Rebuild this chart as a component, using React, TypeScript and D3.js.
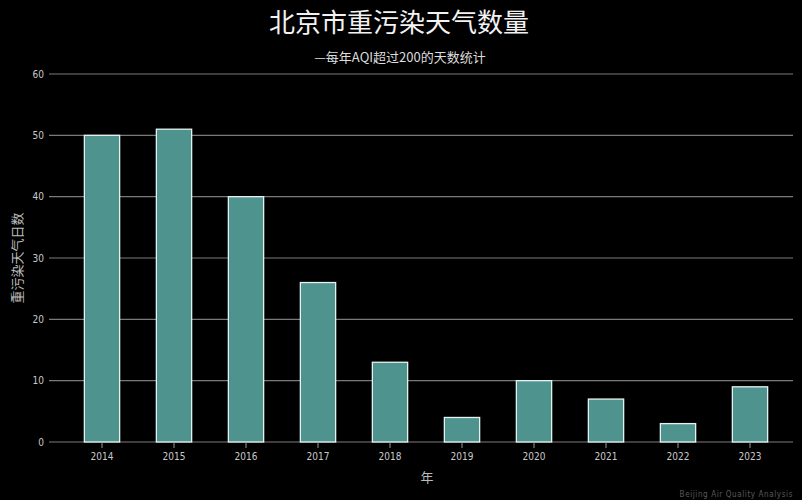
import { useEffect, useRef } from 'react';
import * as d3 from 'd3';

const years = ['2014', '2015', '2016', '2017', '2018', '2019', '2020', '2021', '2022', '2023'];
const heavyDays = [50, 51, 40, 26, 13, 4, 10, 7, 3, 9];
const yTicks = [0, 10, 20, 30, 40, 50, 60];

const WIDTH = 802;
const HEIGHT = 500;
const CJK = '"Noto Sans CJK SC", "Noto Sans", sans-serif';
const NUM = '"DejaVu Sans Condensed", "Liberation Sans Narrow", sans-serif';

export default function App() {
  const svgRef = useRef<SVGSVGElement>(null);

  useEffect(() => {
    if (!svgRef.current) return;
    const svg = d3.select(svgRef.current);
    svg.selectAll('*').remove();

    svg.append('rect').attr('width', WIDTH).attr('height', HEIGHT).attr('fill', '#000');

    // Scales
    const x = d3.scaleBand().domain(years).range([66, 786]).paddingInner(0.51).paddingOuter(0.255);
    const y = d3.scaleLinear().domain([0, 60]).range([442, 74]);

    // Grid lines
    svg.append('g')
      .selectAll('line')
      .data(yTicks)
      .join('line')
      .attr('x1', 49)
      .attr('x2', 793)
      .attr('y1', (d) => y(d))
      .attr('y2', (d) => y(d))
      .attr('stroke', '#7a7a7a')
      .attr('stroke-width', 1.2);

    // Y tick labels
    svg.append('g')
      .selectAll('text')
      .data(yTicks)
      .join('text')
      .attr('x', 44)
      .attr('y', (d) => y(d))
      .attr('text-anchor', 'end')
      .attr('dominant-baseline', 'central')
      .attr('fill', '#c8c8c8')
      .attr('font-family', NUM)
      .attr('font-size', 10)
      .text((d) => d);

    // Bars
    svg.append('g')
      .selectAll('rect')
      .data(heavyDays)
      .join('rect')
      .attr('x', (_, i) => x(years[i]) || 0)
      .attr('y', (d) => y(d))
      .attr('width', x.bandwidth())
      .attr('height', (d) => y(0) - y(d))
      .attr('fill', '#4e938e')
      .attr('stroke', '#e6f2f0')
      .attr('stroke-width', 1.3);

    // X axis
    const xAxis = svg.append('g')
      .attr('transform', `translate(0,${y(0)})`)
      .call(d3.axisBottom(x).tickSize(6).tickPadding(5));
    xAxis.select('.domain').remove();
    xAxis.selectAll('.tick line').attr('stroke', '#9a9a9a');
    xAxis.selectAll('.tick text')
      .attr('fill', '#c8c8c8')
      .attr('font-family', NUM)
      .attr('font-size', 10);

    // Titles
    svg.append('text')
      .attr('x', 399)
      .attr('y', 32)
      .attr('text-anchor', 'middle')
      .attr('fill', '#f2f2f2')
      .attr('font-family', CJK)
      .attr('font-size', 26)
      .text('北京市重污染天气数量');

    svg.append('text')
      .attr('x', 400)
      .attr('y', 62)
      .attr('text-anchor', 'middle')
      .attr('fill', '#dddddd')
      .attr('font-family', CJK)
      .attr('font-size', 13)
      .text('—每年AQI超过200的天数统计');

    svg.append('text')
      .attr('x', 427)
      .attr('y', 482)
      .attr('text-anchor', 'middle')
      .attr('fill', '#bbbbbb')
      .attr('font-family', CJK)
      .attr('font-size', 13)
      .text('年');

    svg.append('text')
      .attr('transform', `translate(22,258) rotate(-90)`)
      .attr('text-anchor', 'middle')
      .attr('fill', '#bbbbbb')
      .attr('font-family', CJK)
      .attr('font-size', 13)
      .text('重污染天气日数');

    svg.append('text')
      .attr('x', 793)
      .attr('y', 497)
      .attr('text-anchor', 'end')
      .attr('fill', '#5a5a5a')
      .attr('font-family', NUM)
      .attr('font-size', 8)
      .attr('letter-spacing', 0.6)
      .text('Beijing Air Quality Analysis');
  }, []);

  return (
    <div style={{ position: 'fixed', left: 0, top: 0, width: WIDTH, height: HEIGHT, background: '#000' }}>
      <svg ref={svgRef} width={WIDTH} height={HEIGHT} style={{ display: 'block' }} />
    </div>
  );
}
